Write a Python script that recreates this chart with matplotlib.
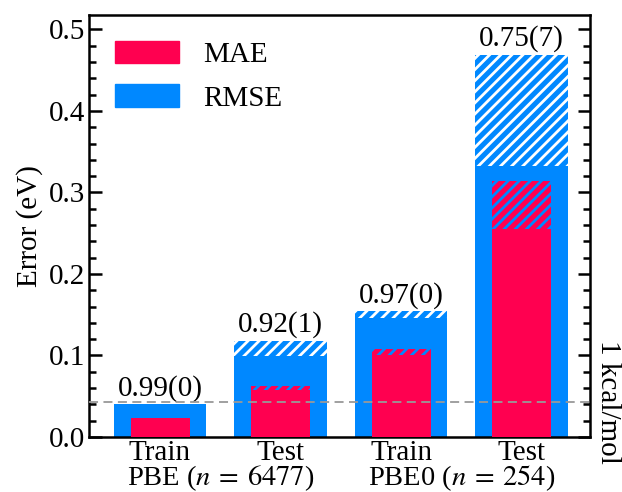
"""Train/test MAE and RMSE bars for PBE and PBE0 data."""
import numpy as np
import matplotlib
matplotlib.use("Agg")
import matplotlib.pyplot as plt
from matplotlib.patches import Patch
from matplotlib.ticker import MultipleLocator

plt.rcParams.update({
    "font.family": "Liberation Serif",
    "mathtext.fontset": "stix",
    "font.size": 21,
    "hatch.linewidth": 2.0,
})

# data (eV)
tick_labels = ["Train", "Test", "Train", "Test"]
group_labels = [r"PBE ($n\:=\:6477$)", r"PBE0 ($n\:=\:254$)"]
rmse_lo = [0.040, 0.099, 0.146, 0.332]
rmse_hi = [0.040, 0.118, 0.154, 0.469]
mae_lo = [0.023, 0.057, 0.100, 0.255]
mae_hi = [0.023, 0.063, 0.108, 0.314]
bar_text = ["0.99(0)", "0.92(1)", "0.97(0)", "0.75(7)"]
kcal_mol = 0.0434

RED = "#ff0050"
BLUE = "#0088ff"

fig = plt.figure(figsize=(6.22, 4.92), dpi=100)
ax = fig.add_axes([0.143, 0.112, 0.806, 0.858])

x = np.arange(len(tick_labels))
rl, rh = np.array(rmse_lo), np.array(rmse_hi)
ml, mh = np.array(mae_lo), np.array(mae_hi)

ax.bar(x, rl, width=0.77, color=BLUE, lw=0, zorder=2)
ax.bar(x, rh - rl, bottom=rl, width=0.77, color=BLUE, edgecolor="white",
       hatch="///", lw=0, zorder=2)
ax.bar(x, ml, width=0.49, color=RED, lw=0, zorder=3)
ax.bar(x, mh - ml, bottom=ml, width=0.49, color=RED, edgecolor=BLUE,
       hatch="///", lw=0, zorder=3)

for xi, top, t in zip(x, rh, bar_text):
    ax.annotate(t, (xi, top), xytext=(0, 2), textcoords="offset points",
                ha="center", va="bottom")

ax.axhline(kcal_mol, color="#999999", ls=(0, (5, 3)), lw=1.3, zorder=4)
ax.text(1.01, kcal_mol, "1 kcal/mol", transform=ax.get_yaxis_transform(),
        rotation=-90, ha="left", va="center")

ax.set_xlim(-0.59, 3.57)
ax.set_ylim(0, 0.518)
ax.yaxis.set_major_locator(MultipleLocator(0.1))
ax.yaxis.set_minor_locator(MultipleLocator(0.02))
ax.set_xticks(x)
ax.set_xticklabels(tick_labels)
ax.tick_params(axis="x", bottom=False, pad=-1.5)
ax.tick_params(axis="y", which="both", direction="in", left=True, right=True,
               width=1.8, pad=3)
ax.tick_params(axis="y", which="major", length=9)
ax.tick_params(axis="y", which="minor", length=5)
for sp in ax.spines.values():
    sp.set_linewidth(1.8)

for gx, gl in zip([0.5, 2.5], group_labels):
    ax.text(gx, -0.114, gl, transform=ax.get_xaxis_transform(),
            ha="center", va="baseline", fontsize=20.5)

ax.set_ylabel("Error (eV)", labelpad=4)

handles = [Patch(color=RED, label="MAE"), Patch(color=BLUE, label="RMSE")]
ax.legend(handles=handles, loc="upper left", frameon=False,
          handlelength=2.2, handleheight=0.8, handletextpad=0.8,
          labelspacing=0.55, borderaxespad=0.5)

fig.savefig("out.png", dpi=100)
